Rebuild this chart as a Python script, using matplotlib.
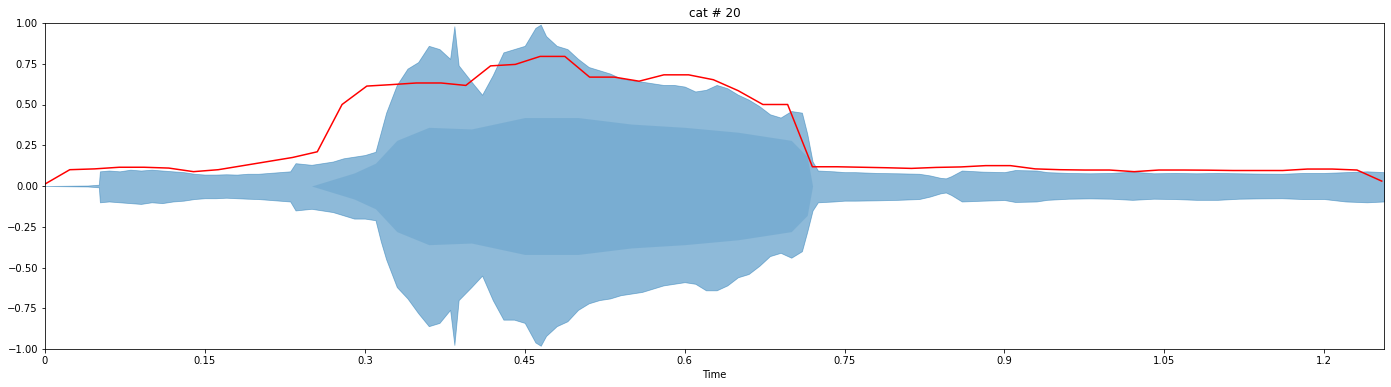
import numpy as np
import matplotlib
matplotlib.use("Agg")
import matplotlib.pyplot as plt

# waveform envelope (seconds, upper peak, lower peak)
env_t = [0.000, 0.040, 0.0505, 0.0515, 0.06, 0.07, 0.08, 0.09, 0.10, 0.11, 0.12, 0.13,
         0.14, 0.15, 0.16, 0.17, 0.18, 0.19, 0.20, 0.21, 0.22, 0.23, 0.235, 0.25, 0.26,
         0.27, 0.28, 0.29, 0.30, 0.31, 0.315, 0.32, 0.33, 0.34, 0.35, 0.36, 0.37, 0.38,
         0.384, 0.388, 0.40, 0.41, 0.42, 0.43, 0.44, 0.45, 0.46, 0.465, 0.47, 0.48, 0.49,
         0.50, 0.51, 0.52, 0.53, 0.54, 0.55, 0.56, 0.57, 0.58, 0.59, 0.60, 0.61, 0.62,
         0.63, 0.64, 0.65, 0.66, 0.67, 0.68, 0.69, 0.70, 0.71, 0.715, 0.72, 0.725, 0.74,
         0.75, 0.76, 0.78, 0.80, 0.82, 0.83, 0.84, 0.845, 0.85, 0.86, 0.88, 0.90, 0.91,
         0.93, 0.94, 0.96, 0.98, 1.00, 1.02, 1.04, 1.06, 1.08, 1.10, 1.12, 1.14, 1.16,
         1.18, 1.20, 1.22, 1.24, 1.256]
env_up = [0.0, 0.003, 0.008, 0.09, 0.095, 0.09, 0.10, 0.095, 0.10, 0.095, 0.09, 0.085,
          0.075, 0.07, 0.07, 0.072, 0.07, 0.075, 0.075, 0.08, 0.085, 0.09, 0.14, 0.13, 0.14,
          0.15, 0.17, 0.18, 0.19, 0.21, 0.33, 0.45, 0.62, 0.72, 0.76, 0.86, 0.84, 0.78,
          0.98, 0.74, 0.64, 0.56, 0.68, 0.82, 0.84, 0.86, 0.97, 0.99, 0.92, 0.86, 0.84,
          0.78, 0.73, 0.71, 0.69, 0.66, 0.65, 0.64, 0.63, 0.62, 0.62, 0.61, 0.58, 0.59,
          0.62, 0.60, 0.56, 0.53, 0.49, 0.44, 0.42, 0.46, 0.45, 0.32, 0.15, 0.095, 0.09,
          0.085, 0.085, 0.08, 0.078, 0.075, 0.065, 0.05, 0.047, 0.06, 0.095, 0.088, 0.085, 0.098,
          0.095, 0.085, 0.08, 0.078, 0.08, 0.088, 0.078, 0.08, 0.078, 0.08, 0.078, 0.076, 0.075,
          0.08, 0.08, 0.085, 0.09, 0.085]
env_lo = [0.0, -0.003, -0.008, -0.10, -0.095, -0.10, -0.105, -0.11, -0.10, -0.105, -0.095, -0.09,
          -0.08, -0.075, -0.075, -0.072, -0.075, -0.078, -0.08, -0.085, -0.09, -0.095, -0.15, -0.14, -0.15,
          -0.16, -0.18, -0.20, -0.20, -0.21, -0.34, -0.45, -0.62, -0.69, -0.78, -0.86, -0.84, -0.76,
          -0.975, -0.70, -0.62, -0.55, -0.70, -0.82, -0.82, -0.84, -0.96, -0.98, -0.92, -0.86, -0.83,
          -0.76, -0.72, -0.70, -0.69, -0.67, -0.66, -0.65, -0.63, -0.61, -0.60, -0.59, -0.60, -0.64,
          -0.64, -0.61, -0.56, -0.54, -0.49, -0.43, -0.41, -0.44, -0.40, -0.28, -0.15, -0.10, -0.095,
          -0.09, -0.09, -0.088, -0.085, -0.08, -0.065, -0.045, -0.04, -0.055, -0.095, -0.09, -0.086, -0.098,
          -0.095, -0.085, -0.078, -0.076, -0.078, -0.085, -0.078, -0.08, -0.085, -0.085, -0.078, -0.076, -0.075,
          -0.08, -0.08, -0.095, -0.10, -0.095]

# darker dense core of the loud part
core_t = [0.25, 0.29, 0.31, 0.33, 0.36, 0.40, 0.45, 0.50, 0.55, 0.60, 0.65, 0.70, 0.715, 0.72]
core_v = [0.0, 0.08, 0.14, 0.28, 0.36, 0.35, 0.42, 0.42, 0.38, 0.36, 0.33, 0.28, 0.18, 0.0]

# red envelope, one value per frame (hop 512 @ 22050 Hz)
env_frames = np.arange(55)
env_vals = [0.012, 0.10, 0.105, 0.115, 0.115, 0.11, 0.088, 0.10, 0.125, 0.15, 0.175, 0.21,
            0.50, 0.613, 0.622, 0.632, 0.632, 0.617, 0.737, 0.746, 0.795, 0.795, 0.668, 0.668,
            0.643, 0.682, 0.682, 0.652, 0.585, 0.50, 0.50, 0.118, 0.118, 0.115, 0.112, 0.108,
            0.114, 0.117, 0.125, 0.125, 0.105, 0.10, 0.098, 0.098, 0.088, 0.098, 0.098, 0.097,
            0.095, 0.095, 0.095, 0.104, 0.104, 0.098, 0.03]
frame_t = env_frames * 512 / 22050

fig = plt.figure(figsize=(1391 / 72, 387 / 72), dpi=72)
ax = fig.add_axes([45 / 1391, 38 / 387, 1339 / 1391, 326 / 387])

ax.fill_between(env_t, env_lo, env_up, color='#1f77b4', alpha=0.5, linewidth=0.8)
ax.fill_between(core_t, [-v for v in core_v], core_v, color='#1f77b4', alpha=0.18, linewidth=0)
ax.plot(frame_t, env_vals, color='red', linewidth=1.5)

ax.set_xlim(0, 1.256)
ax.set_ylim(-1, 1)
xt = [0, 0.15, 0.3, 0.45, 0.6, 0.75, 0.9, 1.05, 1.2]
ax.set_xticks(xt)
ax.set_xticklabels(['0', '0.15', '0.3', '0.45', '0.6', '0.75', '0.9', '1.05', '1.2'])
yt = np.arange(-1, 1.01, 0.25)
ax.set_yticks(yt)
ax.set_yticklabels([f'{v:.2f}'.replace('-', '\u2212') for v in yt])
ax.set_xlabel('Time')
ax.set_title('cat # 20')

fig.savefig('out.png', dpi=72)
